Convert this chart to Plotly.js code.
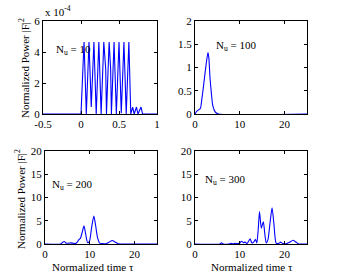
<!DOCTYPE html>
<html><head><meta charset="utf-8">
<script src="https://cdn.plot.ly/plotly-3.0.1.min.js"></script>
<style>html,body{margin:0;padding:0;background:#fff}</style>
</head><body><div id="c" style="width:339px;height:277px"></div>
<script>
// Nu = 10 (power in units of 1e-4)
const t10 = [-0.5,0,0.04,0.07,0.105,0.135,0.17,0.2,0.235,0.265,0.30,0.325,0.335,0.37,0.39,0.40,0.435,0.465,0.50,0.53,0.565,0.595,0.63,0.655,0.68,0.70,0.73,0.75,0.79,0.81,1];
const p10 = [0,0,4.65,0,4.65,0.45,4.65,0,4.65,0,4.65,2.9,0,4.65,2.9,0,4.65,0,4.65,0.05,4.65,0,4.65,0,0.45,0,0.45,0,0.45,0,0];
// Nu = 100
const t100 = [0,0.4,0.8,1.2,1.5,1.9,2.23,2.6,2.9,3.1,3.35,3.65,3.95,4.46,5.2,25];
const p100 = [0,0.06,0.09,0.12,0.3,0.6,0.87,1.15,1.32,1.2,0.78,0.45,0.19,0.05,0,0];
// Nu = 200
const t200 = [0,3.5,4.0,4.3,4.7,5.2,5.7,6.3,6.8,7.2,7.6,7.9,8.3,8.7,9.1,9.5,9.9,10.4,10.9,11.3,11.7,12.2,12.8,13.5,14.3,15.0,15.6,16.3,17,25];
const p200 = [0,0,0.4,0.55,0.2,0.15,0.25,0.15,0.1,0.4,1.0,1.2,2.5,3.9,2.0,0.3,0.5,3.5,6.0,4.0,1.5,0.2,0.1,0.05,0.4,0.75,0.45,0.05,0,0];
// Nu = 300
const t300 = [0,5.5,5.9,6.3,7.5,8,8.5,9,9.5,10,10.4,10.8,11.2,11.6,12.3,12.7,13.1,13.5,13.8,14.1,14.4,14.8,15.25,15.6,15.9,16.3,16.8,17.2,17.6,18.1,18.6,19.1,19.6,20.3,21.0,21.9,22.7,23.2,25];
const p300 = [0,0,0.25,0,0,0.15,0.05,0.15,0.1,0.2,0.6,0.3,0.4,0.1,1.1,0.2,0.4,1.0,0.2,3.0,7.0,3.4,4.8,2.0,0.2,1.0,5.0,7.8,4.5,0.2,0.1,0.4,0.1,0.05,0.3,0.8,0.3,0,0];

const labels = ["N<sub>u</sub> = 10","N<sub>u</sub> = 100","N<sub>u</sub> = 200","N<sub>u</sub> = 300"];
const xTickVals1 = [-0.5,0,0.5,1], xTickText1 = ["-0.5","0","0.5","1"];
const yTickVals1 = [0,2,4,6];
const xTickVals = [0,10,20];
const yTickVals2 = [0,0.5,1,1.5,2], yTickText2 = ["0","0.5","1","1.5","2"];
const yTickVals34 = [0,5,10,15,20];
const yTitle = "Normalized Power |F|<sup>2</sup>";
const xTitle = "Normalized time τ";

const F = {family:"Liberation Serif, Times New Roman, serif", size:11, color:"#000"};
const line = {color:"#0000ff", width:1.1};
const sline = {color:"#0000ff", width:1.1, shape:"spline", smoothing:0.6};
const traces = [
 {x:t10,y:p10,xaxis:"x",yaxis:"y",mode:"lines",line:line},
 {x:t100,y:p100,xaxis:"x2",yaxis:"y2",mode:"lines",line:sline},
 {x:t200,y:p200,xaxis:"x3",yaxis:"y3",mode:"lines",line:sline},
 {x:t300,y:p300,xaxis:"x4",yaxis:"y4",mode:"lines",line:sline}
];
function ax(domain, range, tv, tt, anchor){
  const a = {domain:domain, range:range, anchor:anchor, showgrid:false, zeroline:false,
    showline:true, linecolor:"#000", linewidth:1, mirror:"ticks", ticks:"inside", ticklen:3,
    tickcolor:"#000", tickwidth:1, tickfont:F, tickmode:"array", tickvals:tv, fixedrange:true};
  if (tt) a.ticktext = tt; else a.ticktext = tv.map(String);
  return a;
}
const px = v => v/339, py = v => 1 - v/277;
const xl = [px(43),px(157)], xr=[px(195),px(307)], xlb=[px(45),px(157)];
const yt = [py(114),py(21)], yb=[py(244),py(151)];
const layout = {
  width:339, height:277, margin:{l:0,r:0,t:0,b:0}, showlegend:false,
  paper_bgcolor:"#fff", plot_bgcolor:"#fff", font:F,
  xaxis: ax(xl,[-0.5,1],xTickVals1,xTickText1,"y"),
  yaxis: ax(yt,[0,6],yTickVals1,null,"x"),
  xaxis2: ax(xr,[0,25],xTickVals,null,"y2"),
  yaxis2: ax(yt,[0,2],yTickVals2,yTickText2,"x2"),
  xaxis3: ax(xlb,[0,25],xTickVals,null,"y3"),
  yaxis3: ax(yb,[0,20],yTickVals34,null,"x3"),
  xaxis4: ax(xr,[0,25],xTickVals,null,"y4"),
  yaxis4: ax(yb,[0,20],yTickVals34,null,"x4"),
  annotations:[
    {text:"x 10<sup>-4</sup>", x:px(43), y:py(11), xref:"paper", yref:"paper", xanchor:"left", yanchor:"middle", showarrow:false, font:F},
    {text:labels[0], x:px(54), y:py(50), xref:"paper", yref:"paper", xanchor:"left", yanchor:"middle", showarrow:false, font:F},
    {text:labels[1], x:px(214), y:py(46), xref:"paper", yref:"paper", xanchor:"left", yanchor:"middle", showarrow:false, font:F},
    {text:labels[2], x:px(50), y:py(185), xref:"paper", yref:"paper", xanchor:"left", yanchor:"middle", showarrow:false, font:F},
    {text:labels[3], x:px(203), y:py(180), xref:"paper", yref:"paper", xanchor:"left", yanchor:"middle", showarrow:false, font:F},
    {text:yTitle, x:px(24), y:py(68), xref:"paper", yref:"paper", textangle:-90, xanchor:"center", yanchor:"middle", showarrow:false, font:F},
    {text:yTitle, x:px(20), y:py(199), xref:"paper", yref:"paper", textangle:-90, xanchor:"center", yanchor:"middle", showarrow:false, font:F},
    {text:xTitle, x:px(93), y:py(267), xref:"paper", yref:"paper", xanchor:"center", yanchor:"middle", showarrow:false, font:F},
    {text:xTitle, x:px(252), y:py(267), xref:"paper", yref:"paper", xanchor:"center", yanchor:"middle", showarrow:false, font:F}
  ]
};
Plotly.newPlot("c", traces, layout, {staticPlot:true, displayModeBar:false});
</script></body></html>
